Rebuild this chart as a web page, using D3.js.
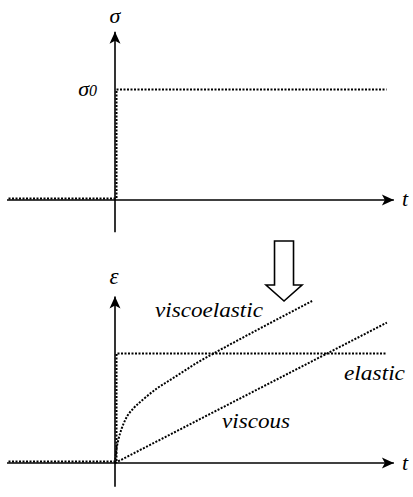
<!DOCTYPE html>
<html>
<head>
<meta charset="utf-8">
<script src="https://cdn.jsdelivr.net/npm/d3@7"></script>
<style>
  html, body { margin: 0; padding: 0; background: #fff; }
  svg { display: block; }
</style>
</head>
<body>
<svg id="chart" width="413" height="497"></svg>
<script>
// Applied stress: a step from 0 to σ0 at t = 0
const stressT = [-4, 0, 0, 10];
const stressS = [0, 0, 1, 1];

// Strain responses (ε in units of the elastic strain)
const elasticT = [-4, 0, 0, 10];
const elasticE = [0, 0, 1, 1];

const viscousT = [0, 10.07];
const viscousE = [0, 1.30];

const viscoT = [0, 0.04, 0.12, 0.25, 0.4, 0.7, 1.05, 1.55, 2.05, 2.55, 3.05, 3.55, 5.4, 7.3];
const viscoE = [0, 0.10, 0.21, 0.32, 0.41, 0.51, 0.59, 0.69, 0.77, 0.85, 0.93, 1.00, 1.25, 1.50];

// Axis extents (data units)
const tAxis = [-4, 10.44];
const sAxis = [-0.295, 1.57];
const eAxis = [-0.22, 1.57];

const serif = "'Liberation Serif', 'DejaVu Serif', serif";

const svg = d3.select("#chart");

const x = d3.scaleLinear().domain([0, 10]).range([115, 385]);
const yS = d3.scaleLinear().domain([0, 1]).range([200, 91]);
const yE = d3.scaleLinear().domain([0, 1]).range([463, 355]);

// arrowhead marker
const defs = svg.append("defs");
defs.append("marker")
  .attr("id", "head")
  .attr("markerUnits", "userSpaceOnUse")
  .attr("viewBox", "-13 -6 14 12")
  .attr("refX", 0).attr("refY", 0)
  .attr("markerWidth", 14).attr("markerHeight", 12)
  .attr("orient", "auto")
  .append("path")
  .attr("d", "M0,0 L-12,-5.5 L-9,0 L-12,5.5 Z")
  .attr("fill", "#000");

function drawAxes(yScale, yExt, g) {
  // horizontal t-axis
  const xa = d3.scaleLinear().domain(tAxis).range(tAxis.map(x));
  const hx = g.append("g")
    .attr("transform", `translate(0,${yScale(0)})`)
    .call(d3.axisBottom(xa).tickValues([]).tickSizeOuter(0));
  hx.select(".domain")
    .attr("d", `M${xa(tAxis[0])},0H${xa(tAxis[1]) - 3}`)
    .attr("stroke", "#000").attr("stroke-width", 1.6)
    .attr("marker-end", "url(#head)");
  // vertical axis
  const ya = d3.scaleLinear().domain(yExt).range(yExt.map(yScale));
  const vy = g.append("g")
    .attr("transform", `translate(${x(0)},0)`)
    .call(d3.axisLeft(ya).tickValues([]).tickSizeOuter(0));
  vy.select(".domain")
    .attr("d", `M0,${ya(yExt[0])}V${ya(yExt[1]) + 3}`)
    .attr("stroke", "#000").attr("stroke-width", 1.6)
    .attr("marker-end", "url(#head)");
}

const gStress = svg.append("g");
const gStrain = svg.append("g");
drawAxes(yS, sAxis, gStress);
drawAxes(yE, eAxis, gStrain);

const dotted = (sel) => sel
  .attr("fill", "none").attr("stroke", "#000")
  .attr("stroke-width", 2)
  .attr("stroke-dasharray", "2,1.5");

const lineS = d3.line().x((d, i) => x(stressT[i])).y(d => yS(d));
gStress.append("path").datum(stressS)
  .attr("d", lineS)
  .attr("transform", "translate(1.5,-1.5)")
  .call(dotted);

const lineEl = d3.line().x((d, i) => x(elasticT[i])).y(d => yE(d));
gStrain.append("path").datum(elasticE)
  .attr("d", lineEl)
  .attr("transform", "translate(1.5,-1.5)")
  .call(dotted);

const lineV = d3.line().x((d, i) => x(viscousT[i])).y(d => yE(d));
gStrain.append("path").datum(viscousE).attr("d", lineV).call(dotted);

const lineVE = d3.line().x((d, i) => x(viscoT[i])).y(d => yE(d)).curve(d3.curveMonotoneX);
gStrain.append("path").datum(viscoE).attr("d", lineVE).call(dotted);

// labels
function label(g, txt, px, py, size, anchor, len) {
  const t = g.append("text")
    .attr("x", px).attr("y", py)
    .attr("font-family", serif).attr("font-style", "italic")
    .attr("font-size", size).attr("fill", "#000")
    .attr("text-anchor", anchor || "start")
    .text(txt);
  if (len) t.attr("textLength", len).attr("lengthAdjust", "spacingAndGlyphs");
  return t;
}

label(gStress, "σ", x(0), 23, 22, "middle");
const s0 = label(gStress, "σ", 97, yS(1) + 5, 22, "end");
s0.append("tspan").attr("font-size", 16).text("0");
label(gStress, "t", 402, yS(0) + 6, 22);

label(gStrain, "ε", x(0) - 1, 284, 23, "middle");
label(gStrain, "t", 402, yE(0) + 7, 22);
label(gStrain, "viscoelastic", 155, 317, 20, "start", 108);
label(gStrain, "elastic", 344, 380, 20, "start", 61);
label(gStrain, "viscous", 222, 428, 20, "start", 68);

// hollow block arrow between the two panels
const ax = x(6.26);
svg.append("path")
  .attr("d", `M${ax - 9.5},241 V285 H${ax - 18} L${ax},301 L${ax + 18},285 H${ax + 9.5} V241 Z`)
  .attr("fill", "#fff").attr("stroke", "#000").attr("stroke-width", 1.6)
  .attr("stroke-linejoin", "miter");
</script>
</body>
</html>
